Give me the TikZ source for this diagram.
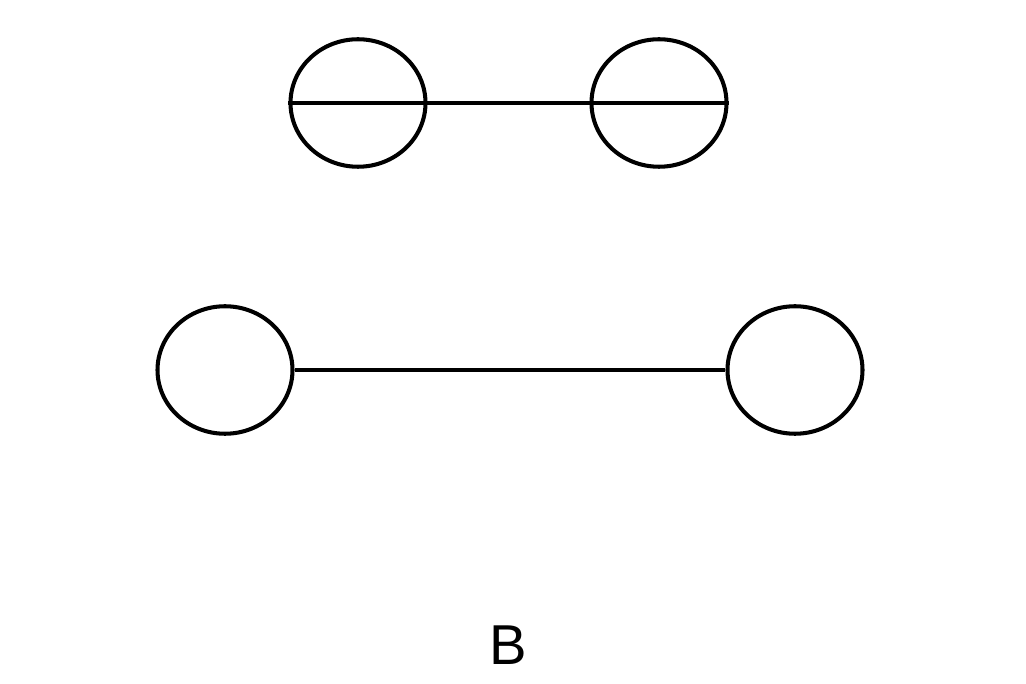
\documentclass[tikz,border=0pt]{standalone}
\usepackage{fontspec}
\setmainfont{Liberation Sans}
\usetikzlibrary{shapes.geometric}

\begin{document}
\begin{tikzpicture}[line width=2.3pt,every node/.style={draw, ellipse, black, minimum width=2.7cm, minimum height=2.55cm, inner sep=0pt}]
    \useasboundingbox (0,0) rectangle (20.52,13.68);
    \node (tl) at (7.16,11.62) {};
    \node (tr) at (13.18,11.62) {};
    \node (bl) at (4.5,6.28) {};
    \node (br) at (15.9,6.28) {};
    \node[draw=none, minimum width=0pt, minimum height=0pt] (lab) at (10.16,0.78) {\fontsize{32}{36}\selectfont B};

    \draw (tl.west) -- (tr.east);
    \draw (bl) -- (br);

  \end{tikzpicture}
\end{document}
